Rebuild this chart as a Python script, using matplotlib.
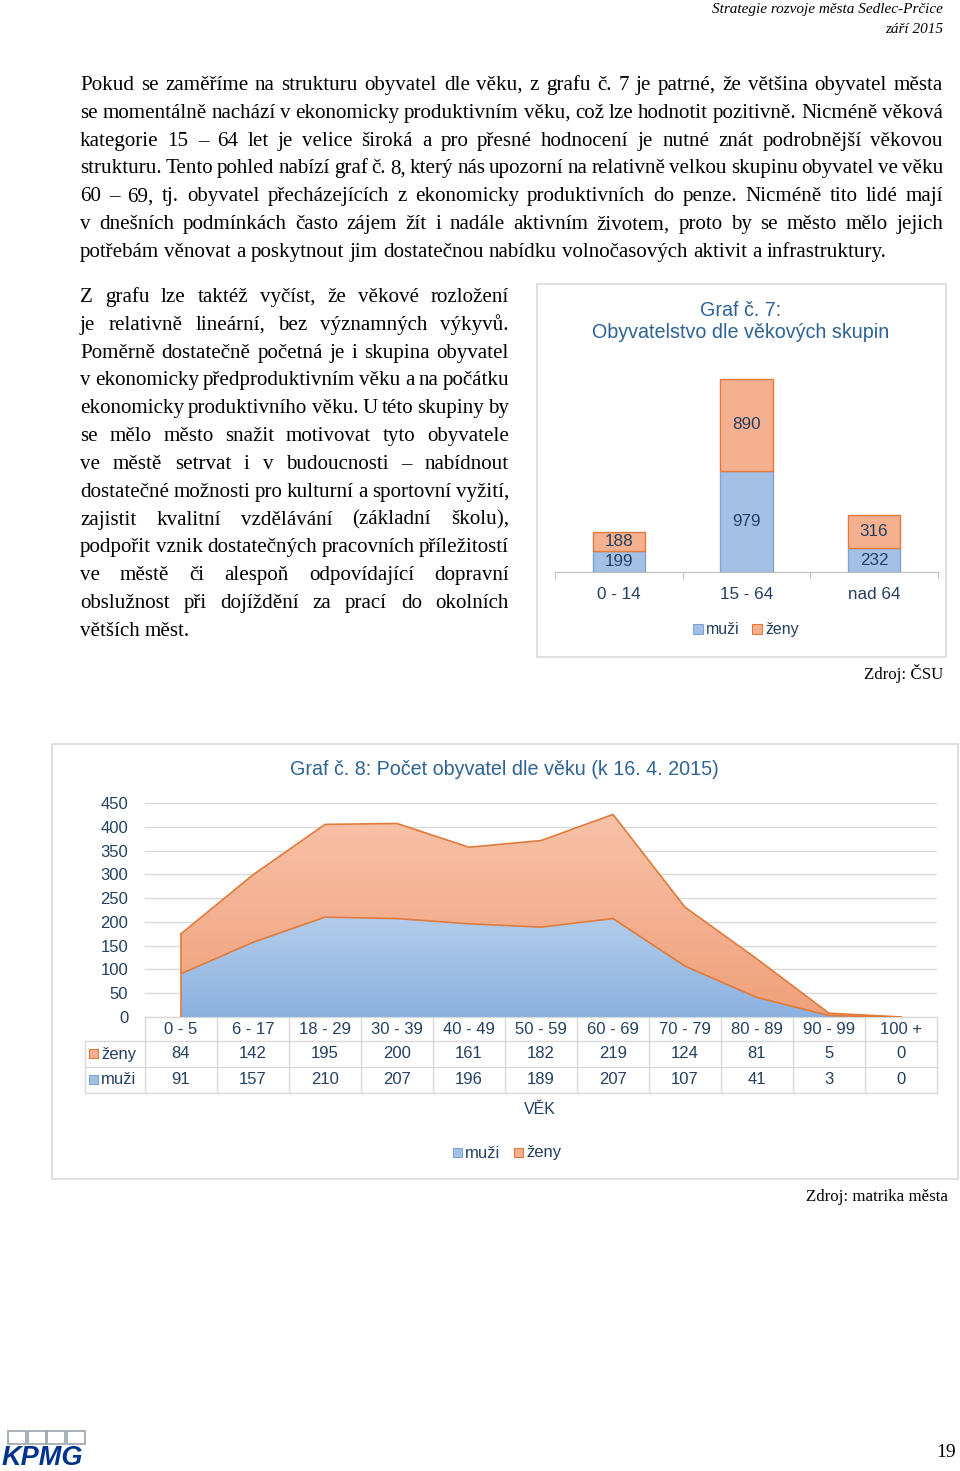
import numpy as np
import matplotlib; matplotlib.use("Agg")
import matplotlib.pyplot as plt
from matplotlib.font_manager import FontProperties
from matplotlib.patches import Rectangle

# --- data ---------------------------------------------------------------
cats7 = ["0 - 14", "15 - 64", "nad 64"]
muzi7 = [199, 979, 232]
zeny7 = [188, 890, 316]

cats8 = ["0 - 5", "6 - 17", "18 - 29", "30 - 39", "40 - 49", "50 - 59",
         "60 - 69", "70 - 79", "80 - 89", "90 - 99", "100 +"]
zeny8 = [84, 142, 195, 200, 161, 182, 219, 124, 81, 5, 0]
muzi8 = [91, 157, 210, 207, 196, 189, 207, 107, 41, 3, 0]
yticks8 = [0, 50, 100, 150, 200, 250, 300, 350, 400, 450]

para1 = [
    "Pokud se zaměříme na strukturu obyvatel dle věku, z grafu č. 7 je patrné, že většina obyvatel města",
    "se momentálně nachází v ekonomicky produktivním věku, což lze hodnotit pozitivně. Nicméně věková",
    "kategorie 15 – 64 let je velice široká a pro přesné hodnocení je nutné znát podrobnější věkovou",
    "strukturu. Tento pohled nabízí graf č. 8, který nás upozorní na relativně velkou skupinu obyvatel ve věku",
    "60 – 69, tj. obyvatel přecházejících z ekonomicky produktivních do penze. Nicméně tito lidé mají",
    "v dnešních podmínkách často zájem žít i nadále aktivním životem, proto by se město mělo jejich",
    "potřebám věnovat a poskytnout jim dostatečnou nabídku volnočasových aktivit a infrastruktury.",
]
para2 = [
    "Z grafu lze taktéž vyčíst, že věkové rozložení",
    "je relativně lineární, bez významných výkyvů.",
    "Poměrně dostatečně početná je i skupina obyvatel",
    "v ekonomicky předproduktivním věku a na počátku",
    "ekonomicky produktivního věku. U této skupiny by",
    "se mělo město snažit motivovat tyto obyvatele",
    "ve městě setrvat i v budoucnosti – nabídnout",
    "dostatečné možnosti pro kulturní a sportovní vyžití,",
    "zajistit kvalitní vzdělávání (základní školu),",
    "podpořit vznik dostatečných pracovních příležitostí",
    "ve městě či alespoň odpovídající dopravní",
    "obslužnost při dojíždění za prací do okolních",
    "větších měst.",
]

# --- styles -------------------------------------------------------------
W, H = 960, 1471
BLUE, BLUE_E = "#A4C0E4", "#7FA5D3"
ORANGE, ORANGE_E = "#F5B08F", "#E07B3C"
NAVY = "#243F60"
TITLE = "#2E6394"
GRID = "#D9D9D9"
SANS = "Liberation Sans"
SERIF = "Liberation Serif"

fig = plt.figure(figsize=(W / 100, H / 100), dpi=100)
ax0 = fig.add_axes([0, 0, 1, 1])
ax0.set_xlim(0, W); ax0.set_ylim(H, 0); ax0.axis("off")


def box(x0, y0, x1, y1):
    return [x0 / W, 1 - y1 / H, (x1 - x0) / W, (y1 - y0) / H]


# --- body text, justified ----------------------------------------------
r = fig.canvas.get_renderer()
fp = FontProperties(family=SERIF, size=15.1)


def tw(s):
    return r.get_text_width_height_descent(s, fp, ismath=False)[0]


def justified(lines, x0, x1, y0, dy):
    space = tw("a b") - tw("ab")
    for i, line in enumerate(lines):
        words = line.split(" ")
        ws = [tw(w) for w in words]
        last = i == len(lines) - 1
        gap = space if last else (x1 - x0 - sum(ws)) / (len(words) - 1)
        x = x0
        for w, wd in zip(words, ws):
            ax0.text(x, y0 + i * dy, w, fontproperties=fp, va="baseline", ha="left")
            x += wd + gap


justified(para1, 80, 943, 90, 27.83)
justified(para2, 80, 509, 302, 27.83)

# header / sources / page number
ax0.text(943, 13, "Strategie rozvoje města Sedlec-Prčice", family=SERIF, style="italic",
         size=11, ha="right", va="baseline")
ax0.text(943, 33, "září 2015", family=SERIF, style="italic", size=11, ha="right", va="baseline")
ax0.text(943, 679, "Zdroj: ČSU", family=SERIF, size=12.2, ha="right", va="baseline")
ax0.text(948, 1201, "Zdroj: matrika města", family=SERIF, size=12.2, ha="right", va="baseline")
ax0.text(956, 1457, "19", family=SERIF, size=14, ha="right", va="baseline")

# KPMG logo
for k in range(4):
    ax0.add_patch(Rectangle((8 + k * 19.5, 1431), 18, 13, fill=False, ec="#9AA3AD", lw=1.2))
ax0.text(2, 1465, "KPMG", family=SANS, weight="bold", style="italic", size=19.5,
         color="#00338D", va="baseline", ha="left")

# --- Graf 7 -------------------------------------------------------------
ax0.add_patch(Rectangle((537, 284), 409, 373, fill=False, ec=GRID, lw=1.2))
ax0.text(741, 310, "Graf č. 7:", family=SANS, size=14.2, color=TITLE, ha="center", va="center")
ax0.text(741, 332, "Obyvatelstvo dle věkových skupin", family=SANS, size=14.2, color=TITLE,
         ha="center", va="center")

ax7 = fig.add_axes(box(555, 352, 938, 572))
x7 = np.arange(len(cats7))
ax7.bar(x7, muzi7, width=0.41, color=BLUE, edgecolor=BLUE_E, lw=1)
ax7.bar(x7, zeny7, width=0.41, bottom=muzi7, color=ORANGE, edgecolor=ORANGE_E, lw=1)
for i in x7:
    ax7.text(i, muzi7[i] / 2, str(muzi7[i]), ha="center", va="center", family=SANS, size=12.3, color=NAVY)
    ax7.text(i, muzi7[i] + zeny7[i] / 2, str(zeny7[i]), ha="center", va="center", family=SANS,
             size=12.3, color=NAVY)
ax7.set_xlim(-0.5, 2.5); ax7.set_ylim(0, 2130)
ax7.patch.set_alpha(0)
for s in ["top", "right", "left"]:
    ax7.spines[s].set_visible(False)
ax7.spines["bottom"].set_color("#BFBFBF")
ax7.set_yticks([])
ax7.set_xticks([-0.5, 0.5, 1.5, 2.5]); ax7.set_xticklabels([])
ax7.tick_params(axis="x", length=5, color="#BFBFBF")
for i, c in enumerate(cats7):
    ax7.text(i, -150, c, ha="center", va="top", family=SANS, size=12.3, color=NAVY)

# legend for graf 7
ax0.add_patch(Rectangle((693, 624), 10, 10, fc=BLUE, ec=BLUE_E, lw=0.8))
ax0.text(706, 629, "muži", family=SANS, size=11.5, color=NAVY, va="center")
ax0.add_patch(Rectangle((752, 624), 10, 10, fc=ORANGE, ec=ORANGE_E, lw=0.8))
ax0.text(765, 629, "ženy", family=SANS, size=11.5, color=NAVY, va="center")

# --- Graf 8 -------------------------------------------------------------
ax0.add_patch(Rectangle((52, 744), 906, 435, fill=False, ec=GRID, lw=1.2))
ax0.text(504, 769, "Graf č. 8: Počet obyvatel dle věku (k 16. 4. 2015)", family=SANS, size=14.2,
         color=TITLE, ha="center", va="center")

ax8 = fig.add_axes(box(145, 803, 937, 1017))
x8 = np.arange(len(cats8))
muzi8 = np.array(muzi8); zeny8 = np.array(zeny8)
top8 = muzi8 + zeny8
ax8.set_xlim(-0.5, 10.5); ax8.set_ylim(0, 450)
for yv in yticks8:
    ax8.axhline(yv, color=GRID, lw=1, zorder=0)

# gradient fills clipped to the stacked areas
pb = ax8.fill_between(x8, 0, muzi8, color="none", lw=0)
po = ax8.fill_between(x8, muzi8, top8, color="none", lw=0)
grad_b = matplotlib.colors.LinearSegmentedColormap.from_list("b", ["#8BB1E0", "#B5CDEB"])
grad_o = matplotlib.colors.LinearSegmentedColormap.from_list("o", ["#F0A07A", "#F8C2A8"])
g = np.linspace(0, 1, 256).reshape(-1, 1)
ib = ax8.imshow(g, cmap=grad_b, origin="lower", extent=[-0.5, 10.5, 0, 215], aspect="auto", zorder=1)
ib.set_clip_path(pb.get_paths()[0], transform=ax8.transData)
io = ax8.imshow(g, cmap=grad_o, origin="lower", extent=[-0.5, 10.5, 0, 430], aspect="auto", zorder=1)
io.set_clip_path(po.get_paths()[0], transform=ax8.transData)
ax8.plot(x8, top8, color=ORANGE_E, lw=1.2, zorder=2)
ax8.plot(x8, muzi8, color=ORANGE_E, lw=1.2, zorder=2)
ax8.plot([0, 0], [0, top8[0]], color=ORANGE_E, lw=1.2, zorder=2)
ax8.set_xlim(-0.5, 10.5); ax8.set_ylim(0, 450)
ax8.patch.set_alpha(0)
for s in ax8.spines.values():
    s.set_visible(False)
ax8.set_xticks([])
ax8.set_yticks(yticks8)
ax8.tick_params(axis="y", length=0, pad=12, labelsize=12, labelcolor=NAVY)
for lab in ax8.get_yticklabels():
    lab.set_family(SANS)

# data table under graf 8
cw = 72
rows = [1017, 1041, 1067, 1093]
for y in rows:
    ax0.plot([85 if y > 1017 else 145, 937], [y, y], color=GRID, lw=1)
for k in range(12):
    ax0.plot([145 + k * cw] * 2, [1017, 1093], color=GRID, lw=1)
ax0.plot([85, 85], [1041, 1093], color=GRID, lw=1)
for i, c in enumerate(cats8):
    xc = 145 + cw * (i + 0.5)
    ax0.text(xc, 1029, c, ha="center", va="center", family=SANS, size=12, color=NAVY)
    ax0.text(xc, 1054, str(zeny8[i]), ha="center", va="center", family=SANS, size=12, color=NAVY)
    ax0.text(xc, 1080, str(muzi8[i]), ha="center", va="center", family=SANS, size=12, color=NAVY)
ax0.add_patch(Rectangle((89, 1049), 9, 9, fc=ORANGE, ec=ORANGE_E, lw=0.8))
ax0.text(101, 1054, "ženy", family=SANS, size=12, color=NAVY, va="center")
ax0.add_patch(Rectangle((89, 1075), 9, 9, fc=BLUE, ec=BLUE_E, lw=0.8))
ax0.text(101, 1080, "muži", family=SANS, size=12, color=NAVY, va="center")

ax0.text(540, 1110, "VĚK", family=SANS, size=11.5, color=NAVY, ha="center", va="center")
ax0.add_patch(Rectangle((453, 1148), 9, 9, fc=BLUE, ec=BLUE_E, lw=0.8))
ax0.text(465, 1153, "muži", family=SANS, size=12, color=NAVY, va="center")
ax0.add_patch(Rectangle((514, 1148), 9, 9, fc=ORANGE, ec=ORANGE_E, lw=0.8))
ax0.text(526, 1153, "ženy", family=SANS, size=12, color=NAVY, va="center")

fig.savefig("out.png", dpi=100)
